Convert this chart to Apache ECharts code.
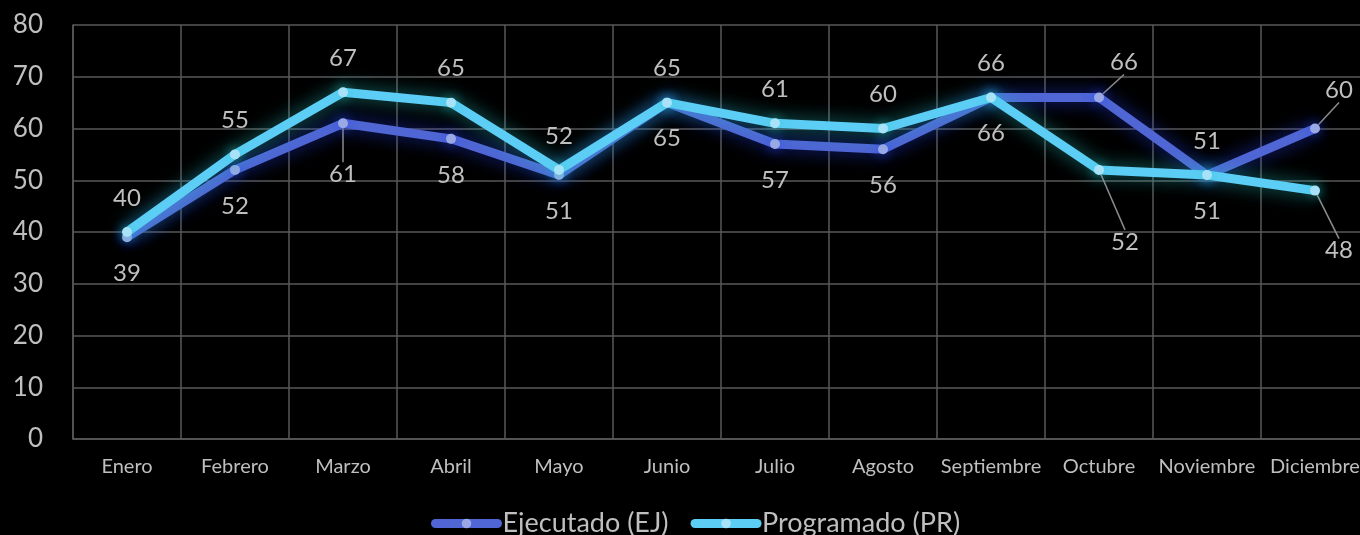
<!DOCTYPE html>
<html>
<head>
<meta charset="utf-8">
<script src="https://cdn.jsdelivr.net/npm/echarts@6/dist/echarts.min.js"></script>
<style>
  html, body { margin: 0; padding: 0; background: #000; overflow: hidden; }
  /* el area de trazado de excel se sale un poco por la derecha */
  #chart { width: 1369px; height: 535px; }
</style>
</head>
<body>
<div id="chart"></div>
<script>
  // datos
  var meses = ['Enero', 'Febrero', 'Marzo', 'Abril', 'Mayo', 'Junio', 'Julio', 'Agosto', 'Septiembre', 'Octubre', 'Noviembre', 'Diciembre'];
  var ejecutado = [39, 52, 61, 58, 51, 65, 57, 56, 66, 66, 51, 60];
  var programado = [40, 55, 67, 65, 52, 65, 61, 60, 66, 52, 51, 48];
  var ticksY = [0, 10, 20, 30, 40, 50, 60, 70, 80];

  var txt = '#bfbfbf';
  var fuente = 'Lato';

  // etiquetas con linea guia (desplazadas como en excel)
  var movEj = { 2: [0, 15], 9: [25, -71], 11: [24, -74] };
  var movPr = { 9: [26, 106], 11: [24, 94] };

  function datos(arr, pos, mov) {
    return arr.map(function (v, i) {
      var d = { value: v, label: { position: pos } };
      if (mov[i]) d.labelLine = { show: true };
      return d;
    });
  }

  var chart = echarts.init(document.getElementById('chart'));

  var option = {
    backgroundColor: '#000',
    animation: false,
    textStyle: { fontFamily: fuente },
    grid: {
      left: 73,
      right: 0,
      top: 25,
      height: 414
    },
    legend: {
      top: 505,
      left: 426,
      itemWidth: 62,
      itemHeight: 12,
      itemGap: 22,
      lineStyle: { width: 9, cap: 'round' },
      textStyle: { color: txt, fontSize: 27, fontFamily: fuente },
      data: ['Ejecutado (EJ)', 'Programado (PR)']
    },
    xAxis: {
      type: 'category',
      data: meses,
      boundaryGap: true,
      axisLine: { show: true, lineStyle: { color: '#595959', width: 1.5 } },
      axisTick: { show: false },
      splitLine: { show: true, lineStyle: { color: '#595959', width: 1.5 } },
      axisLabel: { color: txt, fontSize: 20, margin: 18, interval: 0 }
    },
    yAxis: {
      type: 'value',
      min: ticksY[0],
      max: ticksY[ticksY.length - 1],
      interval: 10,
      axisLine: { show: true, lineStyle: { color: '#595959', width: 1.5 } },
      axisTick: { show: false },
      splitLine: { lineStyle: { color: '#595959', width: 1.5 } },
      axisLabel: { color: txt, fontSize: 26, margin: 30 }
    },
    series: [
      {
        name: 'Ejecutado (EJ)',
        type: 'line',
        data: datos(ejecutado, 'bottom', movEj),
        symbol: 'circle',
        symbolSize: 10,
        z: 2,
        lineStyle: {
          color: '#4f66d4',
          width: 9,
          shadowColor: 'rgba(40,70,255,0.6)',
          shadowBlur: 18
        },
        itemStyle: {
          color: '#9aa8e6',
          shadowColor: 'rgba(40,70,255,0.8)',
          shadowBlur: 12
        },
        label: {
          show: true,
          color: txt,
          fontSize: 24,
          fontFamily: fuente,
          distance: 19
        },
        labelLine: { lineStyle: { color: '#8c8c8c', width: 1.5 } },
        labelLayout: function (p) {
          var m = movEj[p.dataIndex];
          if (m) return { dx: m[0], dy: m[1] };
        }
      },
      {
        name: 'Programado (PR)',
        type: 'line',
        data: datos(programado, 'top', movPr),
        symbol: 'circle',
        symbolSize: 10,
        z: 3,
        lineStyle: {
          color: '#5ccdf5',
          width: 9,
          shadowColor: 'rgba(40,200,200,0.6)',
          shadowBlur: 18
        },
        itemStyle: {
          color: '#a8e2f8',
          shadowColor: 'rgba(40,210,210,0.8)',
          shadowBlur: 12
        },
        label: {
          show: true,
          color: txt,
          fontSize: 24,
          fontFamily: fuente,
          distance: 17
        },
        labelLine: { lineStyle: { color: '#8c8c8c', width: 1.5 } },
        labelLayout: function (p) {
          var m = movPr[p.dataIndex];
          if (m) return { dx: m[0], dy: m[1] };
        }
      }
    ]
  };

  chart.setOption(option);
</script>
</body>
</html>
